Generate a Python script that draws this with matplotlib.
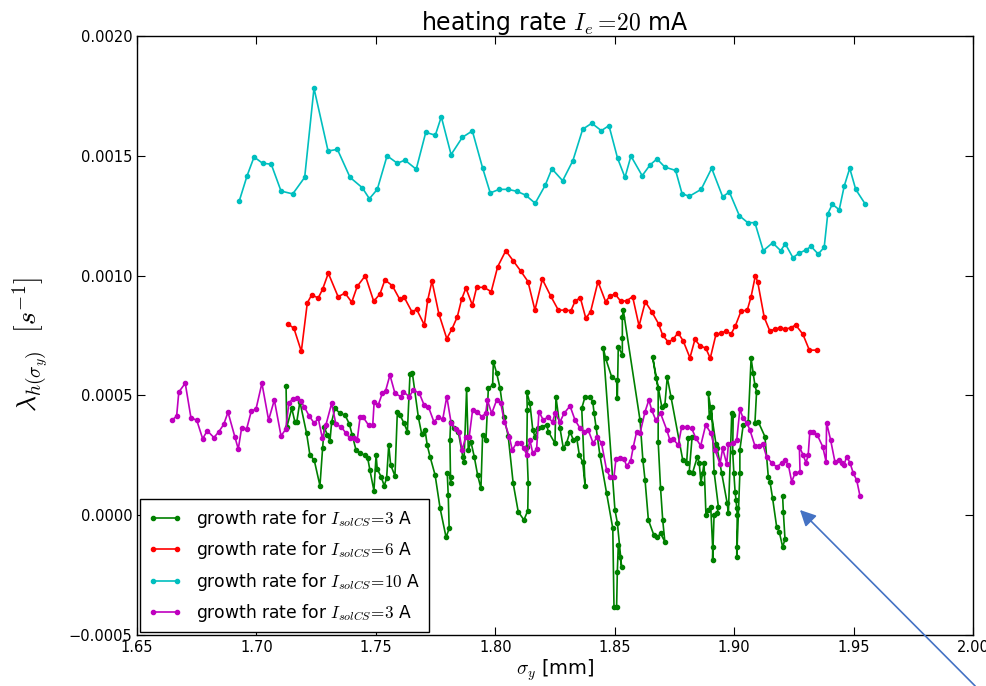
import numpy as np
import matplotlib
matplotlib.use("Agg")
import matplotlib.pyplot as plt
from matplotlib.ticker import FuncFormatter, MultipleLocator

plt.rcParams['mathtext.fontset'] = 'cm'
plt.rcParams['font.family'] = 'DejaVu Sans'

# growth rates, y values given in units of 1e-4 s^-1
x_c10 = [1.6928, 1.6961, 1.6990, 1.7026, 1.7062, 1.7103, 1.7152, 1.7202, 1.7241, 1.7300,
         1.7339, 1.7392, 1.7443, 1.7473, 1.7506, 1.7547, 1.7590, 1.7622, 1.7669, 1.7709,
         1.7749, 1.7774, 1.7815, 1.7862, 1.7904, 1.7947, 1.7979, 1.8016, 1.8053, 1.8090,
         1.8127, 1.8167, 1.8209, 1.8237, 1.8282, 1.8325, 1.8366, 1.8404, 1.8444, 1.8476,
         1.8512, 1.8543, 1.8568, 1.8615, 1.8648, 1.8677, 1.8710, 1.8755, 1.8782, 1.8812,
         1.8862, 1.8906, 1.8952, 1.8980, 1.9022, 1.9057, 1.9087, 1.9122, 1.9161, 1.9195,
         1.9214, 1.9246, 1.9271, 1.9300, 1.9322, 1.9352, 1.9377, 1.9392, 1.9411, 1.9440,
         1.9461, 1.9484, 1.9509, 1.9548]
y_c10 = [13.11, 14.17, 14.95, 14.69, 14.65, 13.53, 13.41, 14.10, 17.82, 15.20,
         15.27, 14.10, 13.67, 13.21, 13.60, 15.00, 14.69, 14.82, 14.44, 15.98,
         15.86, 16.63, 15.05, 15.77, 16.04, 14.49, 13.45, 13.60, 13.60, 13.52,
         13.36, 13.02, 13.77, 14.46, 13.96, 14.80, 16.11, 16.36, 16.05, 16.26,
         14.90, 14.10, 14.99, 14.17, 14.62, 14.87, 14.53, 14.39, 13.42, 13.31,
         13.60, 14.48, 13.29, 13.49, 12.50, 12.21, 12.21, 11.04, 11.37, 11.04,
         11.33, 10.75, 10.93, 11.07, 11.22, 10.90, 11.18, 12.58, 12.98, 12.75,
         13.74, 14.48, 13.60, 13.00]

x_c6 = [1.7133, 1.7157, 1.7188, 1.7213, 1.7231, 1.7259, 1.7277, 1.7301, 1.7342, 1.7371,
        1.7399, 1.7422, 1.7456, 1.7491, 1.7517, 1.7538, 1.7569, 1.7600, 1.7618, 1.7651,
        1.7671, 1.7703, 1.7717, 1.7735, 1.7764, 1.7797, 1.7819, 1.7841, 1.7859, 1.7877,
        1.7904, 1.7922, 1.7953, 1.7983, 1.8010, 1.8044, 1.8075, 1.8106, 1.8137, 1.8166,
        1.8197, 1.8232, 1.8264, 1.8291, 1.8317, 1.8334, 1.8356, 1.8379, 1.8399, 1.8430,
        1.8462, 1.8480, 1.8502, 1.8525, 1.8550, 1.8575, 1.8602, 1.8628, 1.8656, 1.8684,
        1.8701, 1.8724, 1.8745, 1.8765, 1.8787, 1.8815, 1.8836, 1.8858, 1.8881, 1.8900,
        1.8924, 1.8946, 1.8966, 1.8987, 1.9005, 1.9029, 1.9055, 1.9071, 1.9089, 1.9099,
        1.9126, 1.9149, 1.9171, 1.9193, 1.9214, 1.9237, 1.9258, 1.9288, 1.9315, 1.9346]
y_c6 = [7.98, 7.80, 6.84, 8.86, 9.19, 9.07, 9.43, 10.10, 9.12, 9.27,
        8.89, 9.55, 10.00, 8.93, 9.23, 9.82, 9.58, 9.01, 9.11, 8.49,
        8.59, 7.94, 8.97, 9.77, 8.40, 7.37, 7.78, 8.28, 9.01, 9.48,
        8.77, 9.51, 9.51, 9.33, 10.37, 11.04, 10.62, 10.20, 9.75, 8.56,
        9.85, 9.15, 8.56, 8.56, 8.54, 8.93, 9.08, 8.22, 8.49, 9.75,
        8.91, 9.15, 9.23, 8.93, 8.95, 9.12, 7.90, 8.91, 8.48, 7.98,
        7.51, 7.23, 7.34, 7.62, 7.27, 6.57, 7.34, 7.06, 6.98, 6.55,
        7.55, 7.59, 7.70, 7.56, 7.90, 8.52, 8.56, 9.12, 10.00, 9.72,
        8.26, 7.70, 7.76, 7.83, 7.76, 7.83, 7.94, 7.55, 6.89, 6.89]

x_c3b = [1.6647, 1.6666, 1.6675, 1.6702, 1.6726, 1.6750, 1.6775, 1.6794, 1.6822, 1.6843,
         1.6863, 1.6881, 1.6910, 1.6924, 1.6938, 1.6959, 1.6979, 1.6998, 1.7023, 1.7051,
         1.7075, 1.7103, 1.7123, 1.7136, 1.7152, 1.7171, 1.7185, 1.7200, 1.7221, 1.7242,
         1.7259, 1.7276, 1.7291, 1.7315, 1.7333, 1.7355, 1.7375, 1.7392, 1.7408, 1.7422,
         1.7434, 1.7447, 1.7470, 1.7487, 1.7493, 1.7510, 1.7527, 1.7541, 1.7559, 1.7580,
         1.7604, 1.7615, 1.7640, 1.7657, 1.7682, 1.7702, 1.7720, 1.7743, 1.7761, 1.7780,
         1.7797, 1.7815, 1.7834, 1.7848, 1.7861, 1.7877, 1.7891, 1.7905, 1.7925, 1.7943,
         1.7960, 1.7967, 1.7985, 1.8006, 1.8023, 1.8038, 1.8059, 1.8071, 1.8090, 1.8106,
         1.8120, 1.8132, 1.8145, 1.8157, 1.8173, 1.8183, 1.8201, 1.8219, 1.8240, 1.8250,
         1.8271, 1.8288, 1.8313, 1.8334, 1.8355, 1.8371, 1.8389, 1.8410, 1.8427, 1.8445,
         1.8466, 1.8480, 1.8497, 1.8505, 1.8522, 1.8540, 1.8550, 1.8567, 1.8578, 1.8592,
         1.8606, 1.8627, 1.8643, 1.8655, 1.8672, 1.8692, 1.8718, 1.8731, 1.8745, 1.8766,
         1.8780, 1.8801, 1.8822, 1.8840, 1.8860, 1.8881, 1.8903, 1.8920, 1.8941, 1.8952,
         1.8969, 1.8976, 1.8996, 1.9011, 1.9024, 1.9038, 1.9053, 1.9066, 1.9087, 1.9105,
         1.9120, 1.9136, 1.9157, 1.9178, 1.9199, 1.9213, 1.9227, 1.9241, 1.9255, 1.9276,
         1.9273, 1.9289, 1.9301, 1.9310, 1.9317, 1.9331, 1.9348, 1.9371, 1.9385, 1.9387,
         1.9404, 1.9422, 1.9440, 1.9450, 1.9460, 1.9471, 1.9485, 1.9499, 1.9513, 1.9527]
y_c3b = [3.97, 4.14, 5.14, 5.51, 4.06, 3.97, 3.19, 3.53, 3.24, 3.49,
         3.79, 4.30, 3.25, 2.76, 3.64, 3.60, 4.36, 4.42, 5.51, 3.97,
         4.81, 3.31, 3.59, 4.70, 4.84, 4.88, 4.77, 4.53, 4.14, 3.84,
         4.04, 3.21, 3.77, 4.67, 3.79, 3.69, 3.42, 3.21, 3.21, 3.14,
         4.09, 4.09, 3.75, 3.77, 4.74, 4.60, 5.09, 5.20, 5.85, 5.09,
         4.95, 5.15, 4.95, 5.23, 5.09, 4.60, 4.53, 3.90, 4.09, 4.00,
         4.95, 3.86, 3.59, 3.49, 2.72, 3.28, 3.28, 4.39, 4.32, 4.11,
         4.25, 4.81, 4.25, 4.81, 4.67, 3.90, 3.28, 2.72, 3.03, 3.03,
         2.79, 2.51, 3.14, 2.58, 2.75, 4.32, 3.97, 4.09, 3.90, 4.25,
         3.90, 4.25, 4.56, 3.97, 3.63, 3.49, 3.56, 3.00, 3.28, 3.00,
         1.89, 1.61, 1.61, 2.33, 2.38, 2.33, 2.05, 2.28, 2.86, 3.49,
         3.42, 4.32, 4.81, 4.39, 3.97, 4.25, 3.56, 3.14, 3.17, 2.93,
         3.67, 3.67, 3.63, 3.21, 2.90, 3.77, 3.42, 2.72, 2.14, 2.79,
         2.14, 2.96, 3.00, 3.14, 4.42, 4.04, 3.86, 3.56, 2.90, 2.90,
         2.96, 2.44, 2.19, 2.02, 2.17, 2.30, 2.10, 1.40, 1.75, 1.82,
         2.86, 2.51, 2.19, 2.51, 3.49, 3.49, 3.35, 2.86, 2.23, 3.86,
         3.14, 2.23, 2.30, 2.19, 2.10, 2.44, 2.19, 1.75, 1.47, 0.80]

x_c3 = [1.7124, 1.7127, 1.7148, 1.7161, 1.7169, 1.7182, 1.7210, 1.7224, 1.7242, 1.7266,
        1.7277, 1.7284, 1.7297, 1.7308, 1.7315, 1.7329, 1.7350, 1.7371, 1.7389, 1.7401,
        1.7417, 1.7434, 1.7455, 1.7466, 1.7475, 1.7492, 1.7501, 1.7506, 1.7522, 1.7535,
        1.7545, 1.7554, 1.7562, 1.7580, 1.7590, 1.7601, 1.7618, 1.7632, 1.7643, 1.7653,
        1.7678, 1.7692, 1.7706, 1.7715, 1.7727, 1.7748, 1.7769, 1.7794, 1.7807, 1.7803,
        1.7799, 1.7813, 1.7813, 1.7810, 1.7813, 1.7827, 1.7845, 1.7864, 1.7869, 1.7880,
        1.7887, 1.7898, 1.7912, 1.7926, 1.7940, 1.7947, 1.7961, 1.7971, 1.7989, 1.7992,
        1.8006, 1.8020, 1.8036, 1.8054, 1.8075, 1.8096, 1.8120, 1.8136, 1.8138, 1.8132,
        1.8134, 1.8132, 1.8145, 1.8157, 1.8166, 1.8180, 1.8194, 1.8215, 1.8222, 1.8250,
        1.8254, 1.8271, 1.8285, 1.8299, 1.8313, 1.8327, 1.8341, 1.8352, 1.8366, 1.8376,
        1.8362, 1.8376, 1.8396, 1.8408, 1.8414, 1.8422, 1.8438, 1.8466, 1.8492, 1.8497,
        1.8508, 1.8511, 1.8515, 1.8522, 1.8529, 1.8511, 1.8501, 1.8452, 1.8462, 1.8487,
        1.8508, 1.8511, 1.8515, 1.8532, 1.8532, 1.8532, 1.8536, 1.8606, 1.8618, 1.8627,
        1.8641, 1.8664, 1.8678, 1.8692, 1.8710, 1.8701, 1.8692, 1.8682, 1.8682, 1.8673,
        1.8659, 1.8697, 1.8710, 1.8720, 1.8736, 1.8785, 1.8801, 1.8808, 1.8824, 1.8812,
        1.8826, 1.8846, 1.8854, 1.8861, 1.8868, 1.8874, 1.8882, 1.8892, 1.8902, 1.8910,
        1.8910, 1.8916, 1.8929, 1.8934, 1.8916, 1.8906, 1.8896, 1.8892, 1.8924, 1.8929,
        1.8948, 1.8971, 1.8976, 1.8990, 1.8996, 1.8994, 1.8999, 1.9004, 1.9008, 1.9011,
        1.9013, 1.9011, 1.9011, 1.9024, 1.9024, 1.9038, 1.9059, 1.9071, 1.9080, 1.9087,
        1.9094, 1.9087, 1.9101, 1.9129, 1.9143, 1.9150, 1.9161, 1.9178, 1.9189, 1.9203,
        1.9213, 1.9206, 1.9203]
y_c3 = [5.41, 3.67, 4.46, 3.90, 3.90, 4.74, 3.42, 2.51, 2.30, 1.23,
        2.79, 3.67, 3.35, 3.11, 3.90, 4.46, 4.25, 4.18, 3.81, 3.35,
        2.72, 2.58, 2.51, 2.38, 1.89, 1.02, 2.51, 1.92, 1.61, 1.23,
        1.54, 2.93, 2.10, 1.64, 4.32, 4.18, 3.84, 3.49, 5.89, 5.92,
        4.09, 3.39, 3.56, 2.93, 2.44, 1.68, 0.29, -0.92, -0.55, 0.84,
        1.75, 1.61, 1.33, 3.14, 3.88, 3.63, 3.49, 2.44, 2.23, 5.26,
        2.72, 3.07, 2.44, 1.68, 1.12, 3.35, 3.14, 5.30, 5.43, 6.41,
        5.92, 5.30, 4.11, 3.31, 1.33, 0.15, -0.20, 0.19, 1.33, 2.86,
        4.39, 5.15, 4.67, 3.56, 3.28, 3.63, 3.69, 3.77, 3.49, 3.00,
        4.95, 3.63, 2.79, 3.03, 3.49, 3.14, 3.21, 2.51, 2.23, 1.22,
        4.46, 4.95, 4.95, 4.74, 4.25, 3.68, 2.51, 0.91, -0.55, -3.82,
        -3.82, -2.36, -1.24, -1.73, -2.15, -0.31, 0.22, 6.99, 6.55, 5.78,
        5.64, 4.88, 7.03, 6.69, 7.38, 8.29, 8.56, 3.97, 2.30, 1.47,
        -0.20, -0.83, -0.92, -0.76, -1.11, -0.20, 1.12, 3.07, 5.30, 5.71,
        6.59, 4.53, 4.60, 5.76, 4.92, 2.30, 2.17, 3.21, 3.26, 1.82,
        1.77, 2.44, 2.17, 1.36, 1.75, 2.17, 0.01, 0.22, 0.36, -1.32,
        -1.87, 0.01, 0.08, 0.36, 1.82, 4.53, 4.09, 5.09, 2.97, 2.79,
        1.75, 0.50, 0.08, 4.25, 4.18, 2.65, 1.75, 0.98, 0.63, 0.29,
        0.01, -1.32, -1.73, 1.75, 2.72, 3.77, 3.90, 6.55, 5.92, 5.43,
        5.15, 3.84, 3.90, 3.28, 1.61, 1.40, 0.71, -0.48, -0.69, -1.32,
        -1.01, 0.15, 0.80]

series = [
    (x_c3, y_c3, 'g', r'growth rate for $I_{solCS}\!=\!3$ A'),
    (x_c6, y_c6, 'r', r'growth rate for $I_{solCS}\!=\!6$ A'),
    (x_c10, y_c10, 'c', r'growth rate for $I_{solCS}\!=\!10$ A'),
    (x_c3b, y_c3b, 'm', r'growth rate for $I_{solCS}\!=\!3$ A'),
]

fig = plt.figure(figsize=(9.87, 6.86), dpi=100)
ax = fig.add_axes([0.1388, 0.0743, 0.8470, 0.8732])

for xs, ys, col, lab in series:
    ax.plot(xs, np.array(ys) * 1e-4, color=col, marker='.', markersize=6,
            linewidth=1.2, label=lab)

ax.set_xlim(1.65, 2.00)
ax.set_ylim(-0.0005, 0.0020)
ax.xaxis.set_major_locator(MultipleLocator(0.05))
ax.yaxis.set_major_locator(MultipleLocator(0.0005))
ax.xaxis.set_major_formatter(FuncFormatter(lambda v, p: '%.2f' % v))
ax.yaxis.set_major_formatter(FuncFormatter(lambda v, p: ('%.4f' % v).replace('-', '\u2212')))
ax.tick_params(direction='in', top=True, right=True, length=6, labelsize=10.5)
for s in ax.spines.values():
    s.set_linewidth(1.0)

ax.set_title(r'heating rate $I_e=\!20$ mA', fontsize=17, pad=4)
ax.set_xlabel(r'$\sigma_y$ [mm]', fontsize=14, labelpad=2)
ax.set_ylabel(r'$\lambda_{h(\sigma_y)}\ \ [s^{-1}]$', fontsize=20)
ax.yaxis.set_label_coords(-0.103, 0.485)

leg = ax.legend(loc='lower left', fontsize=12.3, fancybox=False, framealpha=1,
                edgecolor='black', borderaxespad=0.15, handlelength=2.0,
                numpoints=2, labelspacing=0.55, borderpad=0.5, handletextpad=0.8)
leg.get_frame().set_linewidth(1.0)

ax.annotate('', xy=(0.8105, 0.2566), xycoords='figure fraction',
            xytext=(0.988, 0.0), textcoords='figure fraction',
            arrowprops=dict(arrowstyle='-|>', color='#4472C4', lw=1.2,
                            mutation_scale=24, shrinkA=0, shrinkB=0))

fig.savefig('out.png', dpi=100)
